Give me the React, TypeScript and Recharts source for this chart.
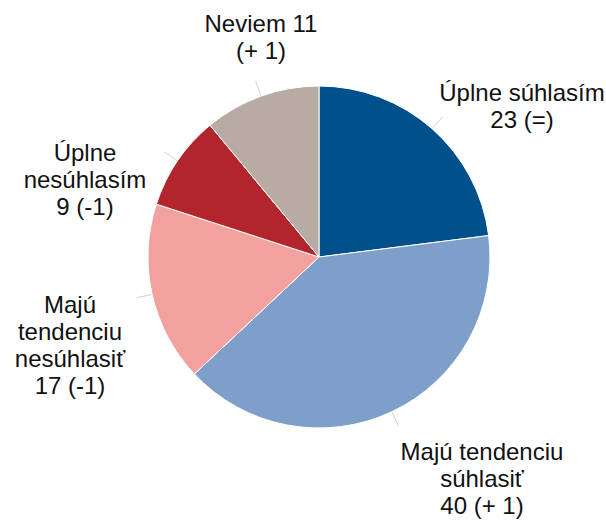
import { PieChart, Pie, Cell } from "recharts";

const names = [
  "Úplne súhlasím",
  "Majú tendenciu súhlasiť",
  "Majú tendenciu nesúhlasiť",
  "Úplne nesúhlasím",
  "Neviem",
];
const values = [23, 40, 17, 9, 11];
const changes = ["(=)", "(+ 1)", "(-1)", "(-1)", "(+ 1)"];
// how each label is broken into lines, as in the original
const labelLines = [
  ["Úplne súhlasím", "23 (=)"],
  ["Majú tendenciu", "súhlasiť", "40 (+ 1)"],
  ["Majú", "tendenciu", "nesúhlasiť", "17 (-1)"],
  ["Úplne", "nesúhlasím", "9 (-1)"],
  ["Neviem 11", "(+ 1)"],
];
const colors = ["#00508b", "#7f9fcb", "#f2a19f", "#b2252c", "#b8aba4"];

// label anchor relative to the pie centre: [dx, first baseline dy]
const LABEL_POS: [number, number][] = [
  [203, -156],
  [163, 203],
  [-249, 56],
  [-234, -96],
  [-58, -225],
];
const LINE_H = 27;
const RADIAN = Math.PI / 180;

const data = names.map((name, i) => ({ name, value: values[i], change: changes[i] }));

function renderLabel(props: any) {
  const { cx, cy, midAngle, outerRadius, index } = props;
  const cos = Math.cos(-midAngle * RADIAN);
  const sin = Math.sin(-midAngle * RADIAN);
  const [dx, dy] = LABEL_POS[index];
  const x = cx + dx;
  const y = cy + dy;
  return (
    <g key={`lbl-${index}`}>
      <line
        x1={cx + (outerRadius + 1) * cos}
        y1={cy + (outerRadius + 1) * sin}
        x2={cx + (outerRadius + 16) * cos}
        y2={cy + (outerRadius + 16) * sin}
        stroke="#cfcfcf"
        strokeWidth={1}
      />
      <text
        x={x}
        y={y}
        textAnchor="middle"
        fill="#111"
        style={{ fontFamily: "'Liberation Sans', Arial, sans-serif", fontSize: 24 }}
      >
        {labelLines[index].map((t, j) => (
          <tspan key={j} x={x} y={y + j * LINE_H}>
            {t}
          </tspan>
        ))}
      </text>
    </g>
  );
}

export default function App() {
  return (
    <div style={{ position: "absolute", left: 0, top: 0, width: 606, height: 521, background: "#fff" }}>
      <PieChart width={606} height={521} margin={{ top: 0, right: 0, bottom: 0, left: 0 }}>
        <Pie
          data={data}
          dataKey="value"
          nameKey="name"
          cx={319}
          cy={257}
          outerRadius={171}
          startAngle={90}
          endAngle={-270}
          stroke="#ffffff"
          strokeWidth={1}
          label={renderLabel}
          labelLine={false}
          isAnimationActive={false}
        >
          {data.map((d, i) => (
            <Cell key={d.name} fill={colors[i]} />
          ))}
        </Pie>
      </PieChart>
    </div>
  );
}
